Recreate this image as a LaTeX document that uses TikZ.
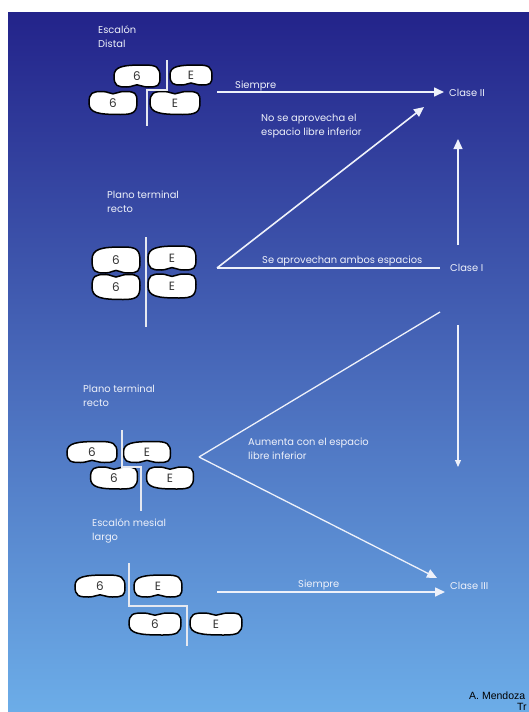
\documentclass[tikz,border=0pt]{standalone}
\usepackage{fontspec}
\setmainfont{Poppins}
\newfontfamily\credfont{Liberation Sans}
\usetikzlibrary{arrows.meta}
\definecolor{deepx}{HTML}{23238A}
\definecolor{midx}{HTML}{2455BC}
\definecolor{skyx}{HTML}{6CADE8}
\definecolor{chalk}{HTML}{EEF1FA}
\tikzset{
  ar/.style={-{Triangle[length=10pt,width=9pt]},line width=1.6pt,chalk},
  arsm/.style={-{Triangle[length=7pt,width=6pt]},line width=1.1pt,chalk},
  ln/.style={line width=1.3pt,chalk},
  sep/.style={line width=1.4pt,chalk!92!gray},
  lbl/.style={text=chalk,font=\fontsize{9.9}{13.5}\selectfont,inner sep=0pt,align=left,anchor=base west},
  digit/.style={font=\fontsize{12}{12}\selectfont,text=black!80,inner sep=0pt},
  cred/.style={font=\credfont\fontsize{10.5}{12}\selectfont,anchor=base west,inner sep=0pt},
  % crown outline, notch on the local -y side
  bean/.pic={
    \draw[line width=1.5pt,fill=white] (-1,0) .. controls (-1,-0.92) and (-0.85,-1) .. (-0.45,-1)
      .. controls (-0.2,-1) and (-0.15,-0.8) .. (0,-0.8)
      .. controls (0.15,-0.8) and (0.2,-1) .. (0.5,-1)
      .. controls (0.92,-1) and (1,-0.88) .. (1,-0.1)
      .. controls (1,0.82) and (0.85,1) .. (0.3,1)
      .. controls (-0.6,1) and (-1,0.88) .. (-1,0) -- cycle;
    \node[digit] (-t) at (0,0) {#1};
  }
}
\begin{document}
\begin{tikzpicture}[x=1pt,y=-1pt]
\useasboundingbox (0,0) rectangle (529,712);
\clip (0,0) rectangle (529,712);
\fill[white] (0,0) rectangle (529,712);
\shade[top color=deepx,middle color=midx,bottom color=skyx] (8,12) rectangle (529,712);

% escalon distal
\node[lbl] (gA) at (98,47) {Escal\'on\\Distal};
\pic[xscale=23,yscale=-11] (a6u) at (137,76) {bean=6};
\pic[xscale=21,yscale=-10] (aEu) at (191,75) {bean=E};
\pic[xscale=24,yscale=11.5] (a6l) at (113,103) {bean=6};
\pic[xscale=25,yscale=11.5] (aEl) at (175,103) {bean=E};
\draw[sep] (167,60) -- (167,90) -- (147,90) -- (147,126);

% plano terminal recto
\node[lbl] (gB) at (107,212) {Plano terminal\\recto};
\pic[xscale=24,yscale=-13] (b6u) at (116,260) {bean=6};
\pic[xscale=24,yscale=-12] (bEu) at (172,258) {bean=E};
\pic[xscale=24,yscale=12.5] (b6l) at (116,287) {bean=6};
\pic[xscale=24,yscale=12] (bEl) at (172,286) {bean=E};
\draw[sep] (146,237) -- (146,327);

% plano terminal recto, escalon
\node[lbl] (gC) at (83,406) {Plano terminal\\recto};
\pic[xscale=25,yscale=-10.5] (c6u) at (92,452) {bean=6};
\pic[xscale=23.5,yscale=-10.5] (cEu) at (147,452) {bean=E};
\pic[xscale=23.5,yscale=11] (c6l) at (114,478) {bean=6};
\pic[xscale=23.5,yscale=11] (cEl) at (170,478) {bean=E};
\draw[sep] (122,430) -- (122,467) -- (141,467) -- (141,511);

% escalon mesial largo
\node[lbl] (gD) at (92,540) {Escal\'on mesial\\largo};
\pic[xscale=25,yscale=-11] (d6u) at (100,586) {bean=6};
\pic[xscale=24,yscale=-11] (dEu) at (158,586) {bean=E};
\pic[xscale=26,yscale=11] (d6l) at (155,624) {bean=6};
\pic[xscale=26,yscale=11] (dEl) at (216,624) {bean=E};
\draw[sep] (129,563) -- (129,606) -- (187,606) -- (187,646);

% clases
\node[lbl] (clsII) at (449,96) {Clase II};
\node[lbl] (clsI) at (450,271) {Clase I};
\node[lbl] (clsIII) at (450,589) {Clase III};

\coordinate (sA) at (217,92);
\coordinate (apexB) at (217,268);
\coordinate (tipII) at (424,107);
\coordinate (endI) at (440,268);
\coordinate (topC) at (440,312);
\coordinate (apexC) at (199,457);
\coordinate (tipIII) at (437,578);
\coordinate (sD) at (217,592);
\coordinate (upS) at (458,245);
\coordinate (upE) at (458,139);
\coordinate (dnS) at (458,325);
\coordinate (dnE) at (458,467);

\draw[ar,shorten >=5pt] (sA) -- (clsII.west|-sA);
\draw[ar] (apexB) -- (tipII);
\draw[ln] (apexB) -- (endI);
\draw[ln] (topC) -- (apexC);
\draw[ar,line width=1.3pt] (apexC) -- (tipIII);
\draw[ar,shorten >=5pt] (sD) -- (clsIII.west|-sD);
\draw[ar,line width=1.3pt] (upS) -- (upE);
\draw[arsm] (dnS) -- (dnE);

\node[lbl] (tA) at (235,88) {Siempre};
\node[lbl] (tB) at (261,135) {No se aprovecha el\\espacio libre inferior};
\node[lbl] (tI) at (262,263) {Se aprovechan ambos espacios};
\node[lbl] (tC) at (248,459) {Aumenta con el espacio\\libre inferior};
\node[lbl] (tD) at (298,587) {Siempre};

\node[cred] (credA) at (469,699) {A. Mendoza};
\node[cred] (credB) at (517,710) {Tr};
\end{tikzpicture}
\end{document}
